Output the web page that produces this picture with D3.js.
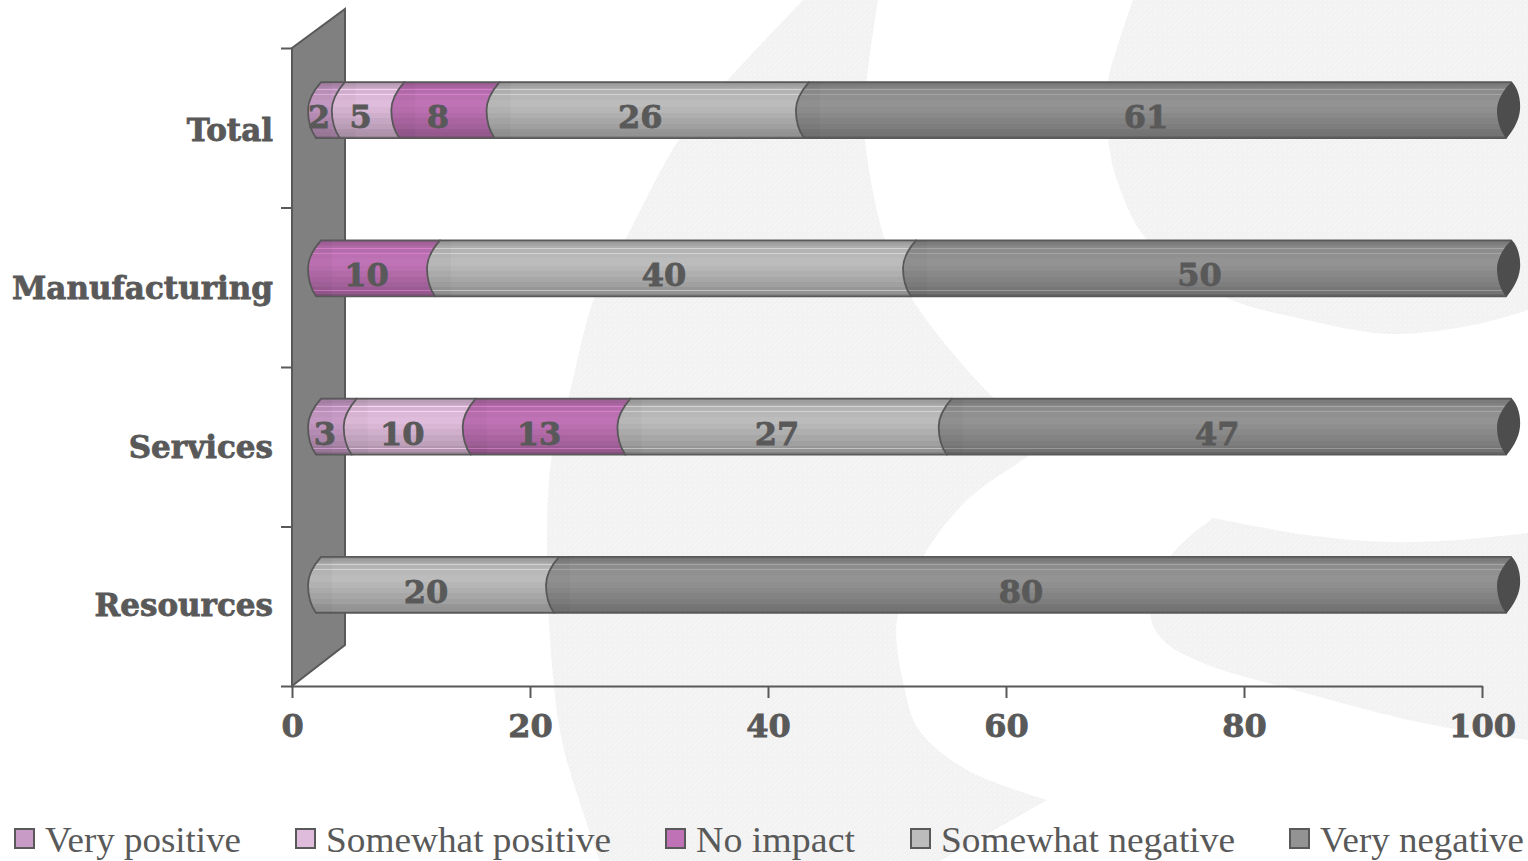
<!DOCTYPE html>
<html><head><meta charset="utf-8">
<script src="https://cdn.jsdelivr.net/npm/d3@7"></script>
<style>html,body{margin:0;padding:0;background:#fff;overflow:hidden}svg{display:block}</style>
</head><body><svg id="c" width="1528" height="861"></svg>
<script>
// ---- data ----
const categories = ["Total","Manufacturing","Services","Resources"];
const seriesNames = ["Very positive","Somewhat positive","No impact","Somewhat negative","Very negative"];
const veryPositive = [2,0,3,0];
const somewhatPositive = [5,0,10,0];
const noImpact = [8,10,13,0];
const somewhatNegative = [26,40,27,20];
const veryNegative = [61,50,47,80];
const axisTicks = [0,20,40,60,80,100];
const seriesColors = ["#c79bc6","#dfbcdb","#bf72b5","#bcbcbc","#939393"];
const legendTextWidths = [196,285,159,294,204];
const legendLeft = [15,296,666,911,1290];

// ---- layout ----
const ink="#595959", serifBold="'DejaVu Serif',serif", serif="'Liberation Serif',serif";
const svg=d3.select("#c"), defs=svg.append("defs");
const x=d3.scaleLinear().domain([0,100]).range([292,1482]);
const y=d3.scaleBand().domain(categories).range([30.9,664.1]);
const depthX=16, barH=56;
const wallY=d3.scaleLinear().domain([0,4]).range([48,686]);
const heavy=s=>s.attr("stroke",ink).attr("stroke-width",.8).attr("paint-order","stroke");

// ---- watermark ----
const pat=defs.append("pattern").attr("id","tex").attr("width",5).attr("height",5).attr("patternUnits","userSpaceOnUse");
pat.append("rect").attr("width",5).attr("height",5).attr("fill","#f2f2f2");
[[0,0],[3,1],[1,3],[4,4]].forEach(p=>pat.append("rect").attr("x",p[0]).attr("y",p[1]).attr("width",1).attr("height",1).attr("fill","#f9f9f9"));
const cr=d3.line().curve(d3.curveCatmullRom.alpha(0.5));
const shape=edges=>edges.map((e,i)=>{const d=cr(e);return i?d.replace(/^M/,"L"):d;}).join("")+"Z";
const wmShapes=[
 [[[803,0],[727,81],[680,138],[625,240],[595,296],[568,399],[552,455],[547,560],[554,686],[564,750],[600,861]],
  [[600,861],[940,861]],
  [[940,861],[1047,800]],
  [[1047,800],[967,770],[919,730],[904,686],[897,620],[923,557],[967,500],[1027,457],[1050,440]],
  [[1050,440],[995,399],[910,296],[885,240],[865,138],[867,81],[878,0]]],
 [[[1133,0],[1117,48],[1108,81],[1108,138],[1117,180],[1147,240],[1223,296],[1307,320],[1390,334],[1473,325],[1528,310]],
  [[1528,310],[1528,0]]],
 [[[1213,518],[1170,557],[1150,613],[1163,640],[1203,663],[1287,688],[1423,723],[1528,740]],
  [[1528,740],[1528,533]],
  [[1528,533],[1457,540],[1390,542],[1307,535],[1213,518]]]
];
svg.append("g").selectAll("path").data(wmShapes).join("path").attr("d",shape).attr("fill","url(#tex)");

// ---- wall ----
svg.append("polygon").attr("points",[[292,48],[345,9],[345,645],[292,686]].join(" "))
  .attr("fill","#808080").attr("stroke",ink).attr("stroke-width",2);

// ---- axes ----
const axB=svg.append("g").attr("transform","translate(0,686)")
  .call(d3.axisBottom(x).tickValues(axisTicks).tickSize(12).tickSizeOuter(0).tickFormat(d3.format("d")));
axB.select(".domain").attr("stroke",ink).attr("stroke-width",2);
axB.selectAll("line").attr("stroke",ink).attr("stroke-width",2);
axB.selectAll("text").attr("y",26).attr("dy","25px").attr("fill",ink)
  .style("font",`bold 32px ${serifBold}`).call(heavy);
const axL=svg.append("g").attr("transform","translate(292,0)")
  .call(d3.axisLeft(wallY).tickValues([0,1,2,3,4]).tickSize(11).tickSizeOuter(0).tickFormat(""));
axL.select(".domain").remove();
axL.selectAll("line").attr("stroke",ink).attr("stroke-width",2);

svg.append("g").selectAll("text").data(categories).join("text")
  .attr("x",273).attr("y",d=>y(d)+y.bandwidth()/2+31).attr("text-anchor","end")
  .attr("fill",ink).style("font",`bold 31px ${serifBold}`).call(heavy).text(d=>d);

// ---- gradients ----
const bands=[[0,.78],[.03,.84],[.07,.88],[.105,.93],[.13,1.12],[.148,.95],[.2,.97],[.222,1.12],[.24,.98],[.32,1],[.45,.97],[.55,.93],[.65,.89],[.75,.85],[.84,.8],[.885,1.04],[.9,.78],[.96,.7],[1,.7]];
seriesColors.forEach((c,i)=>{
  const g=defs.append("linearGradient").attr("id","g"+i).attr("x1",0).attr("x2",0).attr("y1",0).attr("y2",1);
  const shade=f=>{const r=d3.rgb(c);return d3.rgb(Math.min(255,r.r*f),Math.min(255,r.g*f),Math.min(255,r.b*f)).formatHex();};
  bands.forEach((b,k)=>{
    g.append("stop").attr("offset",b[0]).attr("stop-color",shade(b[1]));
    if(k<bands.length-1) g.append("stop").attr("offset",bands[k+1][0]).attr("stop-color",shade(b[1]));
  });
});

// ---- stacked cylinders ----
const rows=categories.map((c,i)=>({cat:c,"Very positive":veryPositive[i],"Somewhat positive":somewhatPositive[i],"No impact":noImpact[i],"Somewhat negative":somewhatNegative[i],"Very negative":veryNegative[i]}));
const stack=d3.stack().keys(seriesNames)(rows);
const bodyPath=(a,b,t)=>`M${a+13},${t}L${b+13},${t}C${b+20},${t+14} ${b+20},${t+40} ${b+8},${t+barH}L${a+8},${t+barH}C${a+3},${t+barH-7} ${a},${t+40} ${a},${t+barH/2}C${a},${t+18} ${a+6},${t+8} ${a+13},${t}Z`;
const shadePath=(a,t)=>`M${a+13},${t}L${a+24},${t}L${a+24},${t+barH}L${a+8},${t+barH}C${a+3},${t+barH-7} ${a},${t+40} ${a},${t+barH/2}C${a},${t+18} ${a+6},${t+8} ${a+13},${t}Z`;
const gBars=svg.append("g");
stack.forEach((s,i)=>{
  s.forEach(d=>{
    const lo=Math.min(d[0],100),hi=Math.min(d[1],100);
    if(hi<=lo) return;
    const a=x(lo)+depthX,b=x(hi)+depthX,t=y(d.data.cat)+y.bandwidth()/2-barH/2;
    gBars.append("path").attr("d",bodyPath(a,b,t)).attr("fill",`url(#g${i})`).attr("stroke",ink).attr("stroke-width",1.8);
    gBars.append("path").attr("d",shadePath(a,t)).attr("fill","#000").attr("opacity",.025);
    if(hi>=100){
      gBars.append("path").attr("d",`M${b+14},${t}C${b+20},${t+6} ${b+23},${t+18} ${b+22},${t+28}C${b+21},${t+40} ${b+13},${t+52} ${b+8},${t+barH}C${b+3},${t+50} ${b-1},${t+40} ${b-1},${t+28}C${b-1},${t+18} ${b+7},${t+5} ${b+14},${t}Z`).attr("fill","#4d4d4d");
    }
  });
});
// value labels
stack.forEach(s=>{
  s.forEach(d=>{
    const v=d[1]-d[0];
    if(!v) return;
    const lo=Math.min(d[0],100),hi=Math.min(d[1],100);
    gBars.append("text").attr("x",(x(lo)+x(hi))/2+depthX-1).attr("y",y(d.data.cat)+y.bandwidth()/2+18)
      .attr("text-anchor","middle").attr("fill",ink).style("font",`bold 32px ${serifBold}`).call(heavy).text(v);
  });
});

// ---- legend ----
const lg=svg.append("g").selectAll("g").data(seriesNames).join("g").attr("transform",(d,i)=>`translate(${legendLeft[i]},0)`);
lg.append("rect").attr("y",829).attr("width",19).attr("height",19).attr("fill",(d,i)=>seriesColors[i]).attr("stroke",ink).attr("stroke-width",2);
lg.append("text").attr("x",30).attr("y",852).attr("fill",ink).style("font",`36px ${serif}`)
  .attr("textLength",(d,i)=>legendTextWidths[i]).attr("lengthAdjust","spacingAndGlyphs").text(d=>d);
</script></body></html>
